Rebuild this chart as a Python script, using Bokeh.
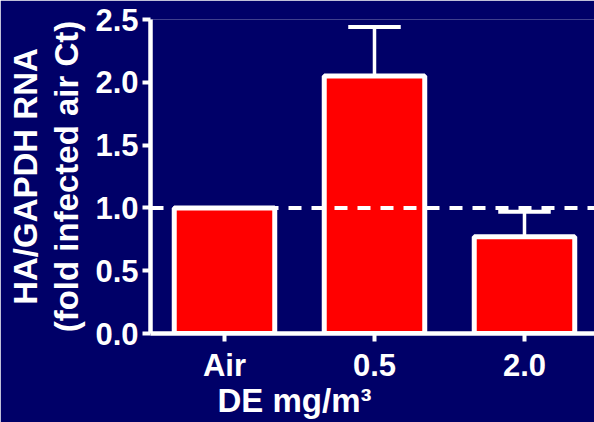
from bokeh.plotting import figure
from bokeh.models import Range1d, FixedTicker, Span, Title, NumeralTickFormatter
from bokeh.embed import file_html
from bokeh.resources import INLINE

# ---- data ----
categories = ["Air", "0.5", "2.0"]
means = [1.0, 2.05, 0.77]
upper = [1.0, 2.44, 0.97]
y_ticks = [0.0, 0.5, 1.0, 1.5, 2.0, 2.5]
reference_level = 1.0
y_title_1 = "HA/GAPDH RNA"
y_title_2 = "(fold infected air Ct)"
x_title = "DE mg/m\u00b3"

BG = "#000068"
FONT = "Liberation Sans"

xs = list(range(len(categories)))

p = figure(width=594, height=422, output_backend="svg", toolbar_location=None,
           x_range=Range1d(-0.4933, 2.4667), y_range=Range1d(0, 2.5),
           min_border_left=150, min_border_top=19, min_border_bottom=89,
           min_border_right=0)
p.background_fill_color = BG
p.border_fill_color = BG
p.outline_line_color = None
p.xgrid.visible = False
p.ygrid.visible = False

# error bars
err_x = [x for x, m, u in zip(xs, means, upper) if u > m]
err_lo = [m for m, u in zip(means, upper) if u > m]
err_hi = [u for m, u in zip(means, upper) if u > m]
p.segment(x0=err_x, y0=err_lo, x1=err_x, y1=err_hi, line_color="white", line_width=3.5)
p.segment(x0=[x - 0.175 for x in err_x], y0=err_hi, x1=[x + 0.175 for x in err_x], y1=err_hi,
          line_color="white", line_width=4)

p.vbar(x=xs, top=means, width=0.67, fill_color="#FF0000", line_color="white", line_width=5)

p.add_layout(Span(location=reference_level, dimension="width", line_color="white",
                  line_width=4, line_dash="13 10"))

for ax in (p.xaxis[0], p.yaxis[0]):
    ax.axis_line_color = "white"
    ax.axis_line_width = 4.5
    ax.major_tick_line_color = "white"
    ax.major_tick_line_width = 4
    ax.major_tick_in = 0
    ax.minor_tick_line_color = None
    ax.major_label_text_color = "white"
    ax.major_label_text_font = FONT
    ax.major_label_text_font_style = "bold"
    ax.major_label_text_font_size = "31px"

p.yaxis.ticker = FixedTicker(ticks=y_ticks)
p.yaxis.formatter = NumeralTickFormatter(format="0.0")
p.yaxis.major_tick_out = 8
p.yaxis.major_label_standoff = 4
p.yaxis.axis_label = y_title_2
p.yaxis.axis_label_text_color = "white"
p.yaxis.axis_label_text_font = FONT
p.yaxis.axis_label_text_font_style = "bold"
p.yaxis.axis_label_text_font_size = "33px"
p.yaxis.axis_label_standoff = 7

p.xaxis.ticker = FixedTicker(ticks=xs)
p.xaxis.major_label_overrides = {x: c for x, c in zip(xs, categories)}
p.xaxis.major_tick_out = 8
p.xaxis.major_label_standoff = 6

common = dict(text_color="white", text_font=FONT, text_font_style="bold")
p.add_layout(Title(text=y_title_1, align="center", text_font_size="33px",
                   standoff=4, **common), "left")
p.add_layout(Title(text=x_title, align="left", offset=67, text_font_size="33px",
                   standoff=-12, **common), "below")

open("out.html", "w").write(file_html(p, INLINE))
